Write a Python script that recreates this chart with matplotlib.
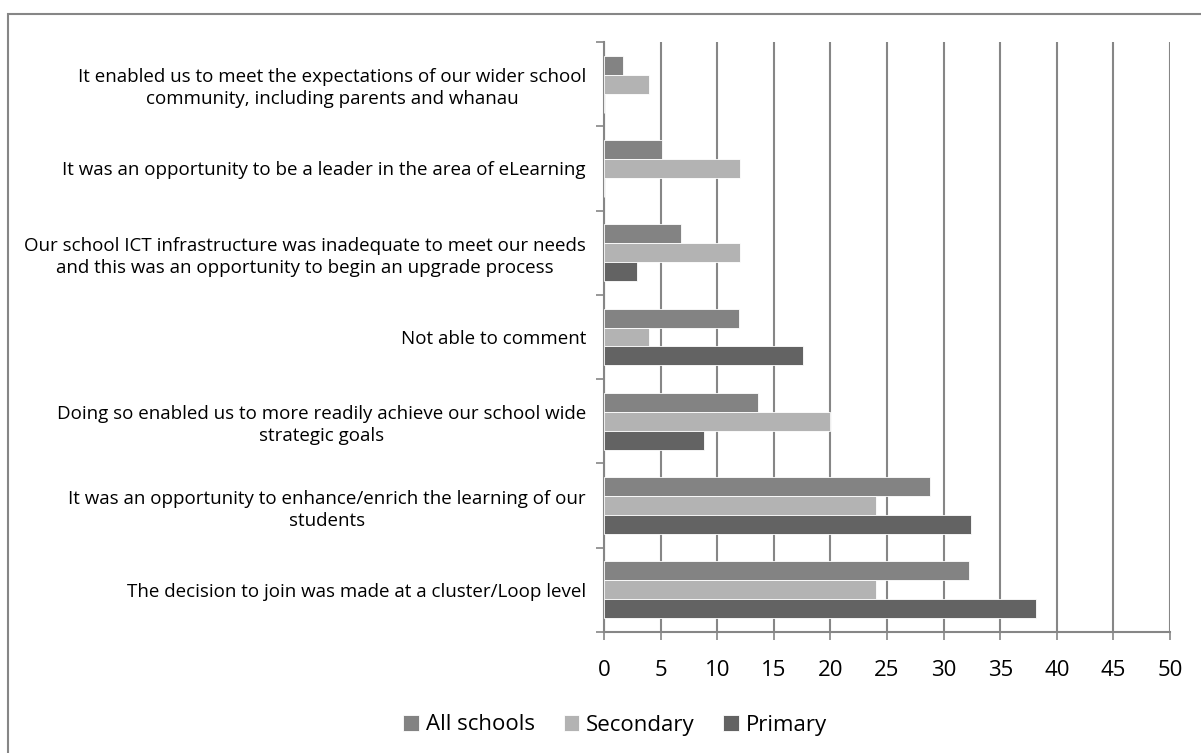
import numpy as np
import matplotlib
matplotlib.use("Agg")
import matplotlib.pyplot as plt
from matplotlib.patches import Rectangle

plt.rcParams['font.family'] = ['Open Sans', 'DejaVu Sans']

# Reasons for joining, top to bottom, with % of schools per group
reasons = [
    "It enabled us to meet the expectations of our wider school\ncommunity, including parents and whanau",
    "It was an opportunity to be a leader in the area of eLearning",
    "Our school ICT infrastructure was inadequate to meet our needs\nand this was an opportunity to begin an upgrade process",
    "Not able to comment",
    "Doing so enabled us to more readily achieve our school wide\nstrategic goals",
    "It was an opportunity to enhance/enrich the learning of our\nstudents",
    "The decision to join was made at a cluster/Loop level",
]
all_schools = [1.7, 5.1, 6.8, 11.9, 13.6, 28.8, 32.2]
secondary = [4.0, 12.0, 12.0, 4.0, 20.0, 24.0, 24.0]
primary = [0.0, 0.0, 2.9, 17.6, 8.8, 32.4, 38.2]

series = [("All schools", all_schools, "#838383"),
          ("Secondary", secondary, "#b3b3b3"),
          ("Primary", primary, "#636363")]

fig = plt.figure(figsize=(12.01, 7.53), dpi=100)
fig.patches.append(Rectangle((8 / 1201, -0.1), 1.2, 1 - 14 / 753 + 0.1,
                             transform=fig.transFigure, fill=False,
                             edgecolor="#868686", linewidth=1.5))

ax = fig.add_axes([604 / 1201, 1 - 632 / 753, 566 / 1201, 590 / 753])

n = len(reasons)
ypos = np.arange(n)[::-1]
h = 0.225
offsets = [h, 0, -h]
for (name, vals, col), off in zip(series, offsets):
    ax.barh(ypos + off, vals, height=h, color=col, edgecolor="white",
            linewidth=0.6, label=name, zorder=3)

ax.set_xlim(0, 50)
ax.set_ylim(-0.5, n - 0.5)
ax.set_xticks(np.arange(0, 51, 5))
ax.tick_params(axis="x", labelsize=16, length=6, width=1.2,
               color="#868686", pad=14.5, labelcolor="black")
ax.grid(axis="x", color="#868686", linewidth=1.5, zorder=0)

ax.set_yticks(ypos)
ax.set_yticklabels(reasons, fontsize=13.5)
for lbl in ax.get_yticklabels():
    lbl.set_multialignment("center")
    lbl.set_linespacing(1.3)
ax.set_yticks(np.arange(-0.5, n), minor=True)
ax.tick_params(axis="y", which="major", length=0, pad=13)
ax.tick_params(axis="y", which="minor", length=6, width=1.2, color="#868686")

for side in ("top", "right"):
    ax.spines[side].set_visible(False)
for side in ("left", "bottom"):
    ax.spines[side].set_color("#868686")
    ax.spines[side].set_linewidth(1.5)

fig.legend(loc="center", bbox_to_anchor=(615 / 1201, 1 - 725 / 753), ncol=3,
           frameon=False, fontsize=16, handlelength=0.7, handleheight=0.7,
           handletextpad=0.3, columnspacing=1.3)

fig.savefig("out.png", dpi=100)
